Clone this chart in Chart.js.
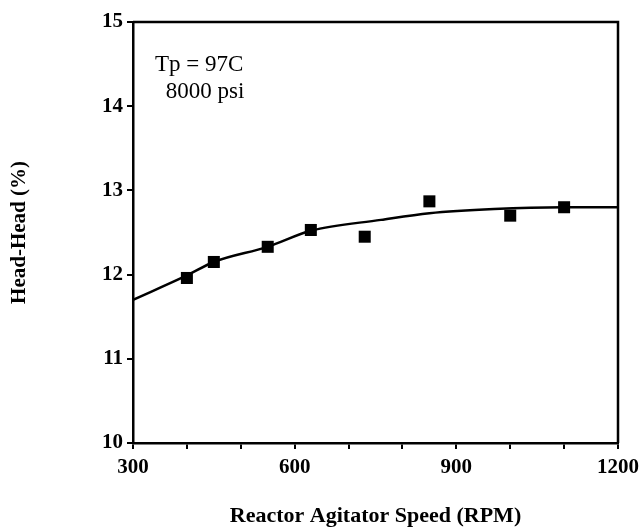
<!DOCTYPE html>
<html>
<head>
<meta charset="utf-8">
<script src="https://cdn.jsdelivr.net/npm/chart.js@4/dist/chart.umd.min.js"></script>
<style>
html,body{margin:0;padding:0;background:#fff;}
#wrap{width:642px;height:528px;}
</style>
</head>
<body>
<div id="wrap"><canvas id="c" width="642" height="528"></canvas></div>
<script>
// Measured points (Reactor Agitator Speed in RPM, Head-Head %)
const speedPoints = [400, 450, 550, 630, 730, 850, 1000, 1100];
const headHeadPoints = [11.96, 12.15, 12.33, 12.53, 12.45, 12.87, 12.70, 12.80];
// Fitted curve
const curveSpeed = [300, 400, 450, 550, 630, 760, 850, 970, 1100, 1200];
const curveHead = [11.70, 11.99, 12.15, 12.33, 12.52, 12.65, 12.73, 12.78, 12.80, 12.80];
// Axis ranges and labelled ticks
const xTickLabels = [300, 600, 900, 1200];
const yTickLabels = [10, 11, 12, 13, 14, 15];
const annotationLines = ['Tp = 97C', ' 8000 psi'];

const serif = '"Liberation Serif", "Times New Roman", serif';

const framePlugin = {
  id: 'frame',
  afterDraw(chart) {
    const {ctx, chartArea: a} = chart;
    ctx.save();
    ctx.strokeStyle = '#000';
    ctx.lineWidth = 2.5;
    ctx.beginPath();
    ctx.moveTo(a.left, a.top);
    ctx.lineTo(a.right, a.top);
    ctx.lineTo(a.right, a.bottom);
    ctx.stroke();
    // annotation text
    ctx.fillStyle = '#000';
    ctx.font = '23px ' + serif;
    ctx.textBaseline = 'alphabetic';
    ctx.textAlign = 'left';
    ctx.fillText(annotationLines[0], 155, 71);
    ctx.fillText(annotationLines[1], 160, 98);
    ctx.restore();
  }
};

new Chart(document.getElementById('c'), {
  type: 'scatter',
  data: {
    datasets: [
      {
        type: 'line',
        data: curveSpeed.map((x, i) => ({x, y: curveHead[i]})),
        borderColor: '#000',
        borderWidth: 2.5,
        pointRadius: 0,
        cubicInterpolationMode: 'monotone',
        fill: false
      },
      {
        data: speedPoints.map((x, i) => ({x, y: headHeadPoints[i]})),
        pointStyle: 'rect',
        pointRadius: 8.5,
        pointBackgroundColor: '#000',
        pointBorderWidth: 0,
        borderWidth: 0,
        showLine: false
      }
    ]
  },
  options: {
    responsive: false,
    animation: false,
    layout: {padding: {top: 22, right: 24, bottom: 0, left: 0}},
    plugins: {legend: {display: false}, tooltip: {enabled: false}},
    scales: {
      x: {
        type: 'linear',
        min: xTickLabels[0],
        max: xTickLabels[xTickLabels.length - 1],
        afterFit(s) { s.height = 85; s.paddingRight = 0; s.paddingLeft = 0; },
        border: {display: true, color: '#000', width: 2.5},
        grid: {drawOnChartArea: false, drawTicks: true, tickLength: 6, color: '#000', lineWidth: 2},
        ticks: {
          stepSize: 100,
          autoSkip: false,
          maxRotation: 0,
          padding: 6,
          color: '#000',
          font: {family: serif, size: 21, weight: 'bold'},
          callback: v => xTickLabels.includes(v) ? String(v) : ''
        },
        title: {
          display: true,
          text: 'Reactor Agitator Speed (RPM)',
          color: '#000',
          font: {family: serif, size: 22, weight: 'bold'},
          padding: {top: 0, bottom: -2}
        }
      },
      y: {
        type: 'linear',
        min: yTickLabels[0],
        max: yTickLabels[yTickLabels.length - 1],
        afterFit(s) { s.width = 133; s.paddingTop = 0; s.paddingBottom = 0; },
        border: {display: true, color: '#000', width: 2.5},
        grid: {drawOnChartArea: false, drawTicks: true, tickLength: 6, color: '#000', lineWidth: 2},
        ticks: {
          stepSize: 1,
          padding: 4,
          color: '#000',
          font: {family: serif, size: 21, weight: 'bold'},
          callback: v => yTickLabels.includes(v) ? String(v) : ''
        },
        title: {
          display: true,
          text: 'Head-Head (%)',
          color: '#000',
          font: {family: serif, size: 21, weight: 'bold'},
          padding: {top: 7, bottom: 0}
        }
      }
    }
  },
  plugins: [framePlugin]
});
</script>
</body>
</html>
